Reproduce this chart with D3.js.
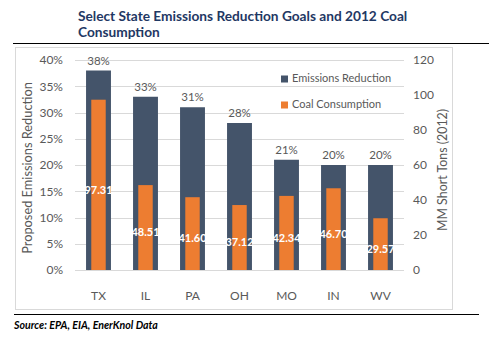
<!DOCTYPE html>
<html>
<head>
<meta charset="utf-8">
<script src="https://cdn.jsdelivr.net/npm/d3@7"></script>
<style>
  html, body { margin: 0; padding: 0; background: #fff; }
  svg { display: block; font-family: Lato, "Open Sans", sans-serif; }
</style>
</head>
<body>
<svg id="chart" width="502" height="341"></svg>
<script>
// Chart data
const states = ["TX", "IL", "PA", "OH", "MO", "IN", "WV"];
const reductionGoal = [0.38, 0.33, 0.31, 0.28, 0.21, 0.20, 0.20];
const coalConsumption = [97.31, 48.51, 41.60, 37.12, 42.34, 46.70, 29.57];
const leftTicks = [0, 0.05, 0.10, 0.15, 0.20, 0.25, 0.30, 0.35, 0.40];
const rightTicks = [0, 20, 40, 60, 80, 100, 120];
const seriesNames = ["Emissions Reduction", "Coal Consumption"];

const navy = "#44546A", orange = "#ED7D31", grey = "#595959", grid = "#D9D9D9";

const svg = d3.select("#chart");
const plot = { left: 75, right: 404, top: 60, bottom: 270 };

const x = d3.scaleBand().domain(states).range([plot.left, plot.right]).paddingInner(0.47).paddingOuter(0.235);
const yL = d3.scaleLinear().domain([0, 0.40]).range([plot.bottom, plot.top]);
const yR = d3.scaleLinear().domain([0, 120]).range([plot.bottom, plot.top]);

// Title
const title = svg.append("text").attr("x", 78).attr("y", 21)
  .attr("fill", "#1F3864").attr("font-weight", "bold").attr("font-size", 13.7)
  .attr("font-family", "Lato, sans-serif");
title.append("tspan").attr("x", 78).text("Select State Emissions Reduction Goals and 2012 Coal");
title.append("tspan").attr("x", 78).attr("dy", 16).text("Consumption");

// Rules above and below the chart
svg.append("line").attr("x1", 13).attr("x2", 489).attr("y1", 43.5).attr("y2", 43.5)
  .attr("stroke", "#000").attr("stroke-width", 1.2);
svg.append("line").attr("x1", 14).attr("x2", 479).attr("y1", 314.5).attr("y2", 314.5)
  .attr("stroke", "#000").attr("stroke-width", 1.2);

// Chart frame
svg.append("rect").attr("x", 15.5).attr("y", 47.5).attr("width", 437).attr("height", 262)
  .attr("fill", "#fff").attr("stroke", "#D9D9D9");

// Gridlines
svg.append("g").selectAll("line").data(leftTicks).join("line")
  .attr("x1", plot.left).attr("x2", plot.right)
  .attr("y1", d => Math.round(yL(d)) + 0.5).attr("y2", d => Math.round(yL(d)) + 0.5)
  .attr("stroke", grid).attr("stroke-width", 1);

// Left axis
const axL = svg.append("g").attr("transform", `translate(${plot.left - 12},0)`)
  .call(d3.axisLeft(yL).tickValues(leftTicks).tickFormat(d3.format(".0%")).tickSize(0).tickPadding(0));
axL.select(".domain").remove();
axL.selectAll("text").attr("fill", grey).attr("font-size", 12).attr("font-family", "Lato, sans-serif");

// Right axis
const axR = svg.append("g").attr("transform", `translate(${plot.right + 9},0)`)
  .call(d3.axisRight(yR).tickValues(rightTicks).tickSize(0).tickPadding(0));
axR.select(".domain").remove();
axR.selectAll("text").attr("fill", grey).attr("font-size", 12).attr("font-family", "Lato, sans-serif");

// Bottom axis
const axB = svg.append("g").attr("transform", `translate(0,${plot.bottom + 15})`)
  .call(d3.axisBottom(x).tickSize(0).tickPadding(6));
axB.select(".domain").remove();
axB.selectAll("text").attr("fill", grey).attr("font-size", 12).attr("font-family", "Lato, sans-serif");

// Axis titles
svg.append("text").attr("transform", `translate(32,168) rotate(-90)`)
  .attr("text-anchor", "middle").attr("fill", grey).attr("font-size", 12.8)
  .text("Proposed Emissions Reduction");
svg.append("text").attr("transform", `translate(447,170) rotate(-90)`)
  .attr("text-anchor", "middle").attr("fill", grey).attr("font-size", 12.4)
  .text("MM Short Tons (2012)");

const rows = states.map((s, i) => ({ s, r: reductionGoal[i], c: coalConsumption[i] }));
const bw = x.bandwidth();
const ow = bw * 0.58;

// Emissions reduction bars
svg.append("g").selectAll("rect").data(rows).join("rect")
  .attr("x", d => x(d.s)).attr("width", bw)
  .attr("y", d => yL(d.r)).attr("height", d => yL(0) - yL(d.r))
  .attr("fill", navy);

// Coal consumption bars
svg.append("g").selectAll("rect").data(rows).join("rect")
  .attr("x", d => x(d.s) + (bw - ow) / 2).attr("width", ow)
  .attr("y", d => yR(d.c)).attr("height", d => yR(0) - yR(d.c))
  .attr("fill", orange);

// Percent labels above bars
svg.append("g").selectAll("text").data(rows).join("text")
  .attr("x", d => x(d.s) + bw / 2).attr("y", d => yL(d.r) - 6)
  .attr("text-anchor", "middle").attr("fill", grey).attr("font-size", 11.5)
  .text(d => d3.format(".0%")(d.r));

// Coal values inside the orange bars
svg.append("g").selectAll("text").data(rows).join("text")
  .attr("x", d => x(d.s) + bw / 2)
  .attr("y", d => (yR(d.c) + yR(0)) / 2 + 6)
  .attr("dominant-baseline", "middle")
  .attr("text-anchor", "middle").attr("fill", "#fff").attr("font-weight", "bold").attr("font-size", 11)
  .text(d => d3.format(".2f")(d.c));

// Legend
const leg = svg.append("g");
const legRows = [{ name: seriesNames[0], color: navy, y: 79 }, { name: seriesNames[1], color: orange, y: 105 }];
leg.selectAll("rect").data(legRows).join("rect")
  .attr("x", 281).attr("y", d => d.y - 3.5).attr("width", 7).attr("height", 7).attr("fill", d => d.color);
leg.selectAll("text").data(legRows).join("text")
  .attr("x", 292).attr("y", d => d.y).attr("dominant-baseline", "middle")
  .attr("fill", grey).attr("font-size", 11).text(d => d.name);

// Source note
svg.append("text").attr("x", 14).attr("y", 328.5)
  .attr("fill", "#000").attr("font-weight", "bold").attr("font-style", "italic").attr("font-size", 10.6)
  .text("Source: EPA, EIA, EnerKnol Data");
</script>
</body>
</html>
